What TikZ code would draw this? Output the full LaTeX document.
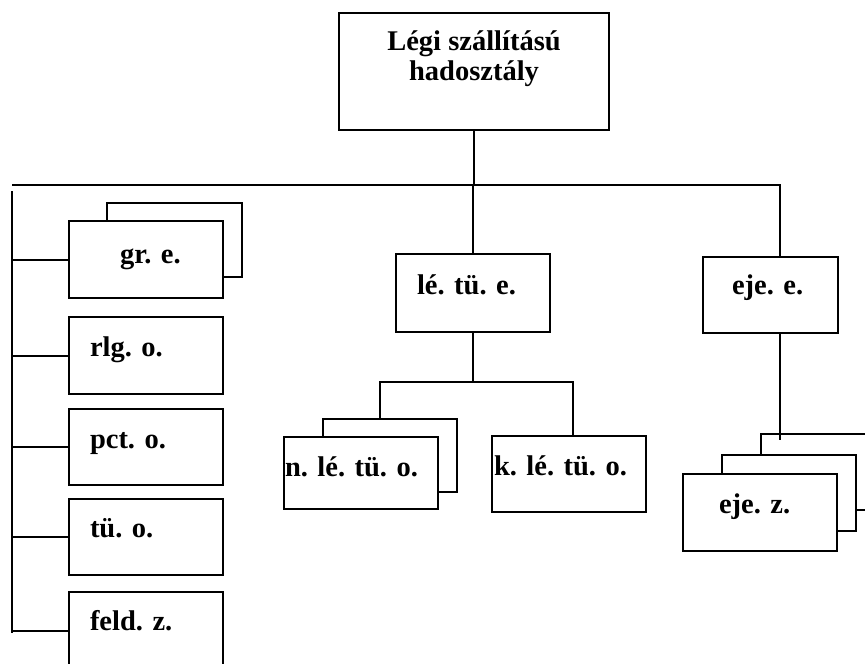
\documentclass[tikz,border=0pt]{standalone}
\usepackage{fontspec}
\setmainfont{Liberation Serif}
\begin{document}
\begin{tikzpicture}[x=1pt, y=-1pt, line width=2pt]
    \tikzstyle{unit_box}=[draw, line width=2pt, inner sep=0pt, minimum width=154pt, minimum height=77pt]
    \tikzstyle{unit_text}=[anchor=base west, inner sep=0pt, font=\fontsize{28.5}{30}\selectfont\bfseries]
    \useasboundingbox (0,0) rectangle (865,664);
    \clip (0,0) rectangle (865,664);

    % --- division ---
    \node[unit_box, minimum width=270pt, minimum height=117pt] (hq) at (474,71.5) {};
    \node[unit_text, anchor=base, align=center] (hq_text) at (474,80) {Légi szállítású\\hadosztály};
    \coordinate (bus_l) at (12,185);
    \coordinate (bus_r) at (780,185);
    \draw (hq.south) -- (hq.south |- bus_l);
    \draw (bus_l) -- (bus_r) -- (bus_r |- 0,257);

    % --- left column ---
    \node[unit_box] (gre) at (146,259.5) {};
    \node[unit_box] (rlg) at (146,355.5) {};
    \node[unit_box, minimum height=76pt] (pct) at (146,447) {};
    \node[unit_box, minimum height=76pt] (tuo) at (146,537) {};
    \node[unit_box] (feld) at (146,630.5) {};
    \node[unit_text] (gre_text) at (119,263) {gr. e.};
    \node[unit_text] (rlg_text) at (89,356) {rlg. o.};
    \node[unit_text] (pct_text) at (89,448) {pct. o.};
    \node[unit_text] (tuo_text) at (89,537) {tü. o.};
    \node[unit_text] (feld_text) at (89,630) {feld. z.};
    \draw (107,221) |- (242,203) |- (gre.east |- 0,277);
    \draw (12,191) -- (12,633);
    \draw (gre.west -| bus_l) -- (gre.west);
    \draw (rlg.west -| bus_l) -- (rlg.west);
    \draw (pct.west -| bus_l) -- (pct.west);
    \draw (tuo.west -| bus_l) -- (tuo.west);
    \draw (feld.west -| bus_l) -- (feld.west);

    % --- middle branch ---
    \node[unit_box, minimum height=78pt] (lte) at (473,293) {};
    \node[unit_text] (lte_text) at (416,294) {lé. tü. e.};
    \node[unit_box, minimum height=72pt] (nlto) at (361,473) {};
    \node[unit_text] (nlto_text) at (284,476) {n. lé. tü. o.};
    \node[unit_box, minimum height=76pt] (klto) at (569,474) {};
    \node[unit_text] (klto_text) at (493,475) {k. lé. tü. o.};
    \coordinate (lte_fork) at (473,382);
    \coordinate (nlto_in) at (380,419);
    \coordinate (klto_in) at (573,436);
    \draw (lte.north |- bus_l) -- (lte.north);
    \draw (lte.south) -- (lte_fork);
    \draw (nlto_in) |- (klto_in |- lte_fork) -- (klto_in);
    \draw (323,437) |- (457,419) |- (nlto.east |- 0,492);

    % --- right branch ---
    \node[unit_box, minimum width=135pt, minimum height=76pt] (ejee) at (770.5,295) {};
    \node[unit_text] (ejee_text) at (731,294) {eje. e.};
    \node[unit_box] (ejez) at (760,512.5) {};
    \node[unit_text] (ejez_text) at (718,513) {eje. z.};
    \draw (ejee.south -| bus_r) -- (780,440);
    \draw (761,455) |- (865,434);
    \draw (722,474) |- (856,455) |- (ejez.east |- 0,531);
    \draw (856,510) -- (865,510);
\end{tikzpicture}
\end{document}
